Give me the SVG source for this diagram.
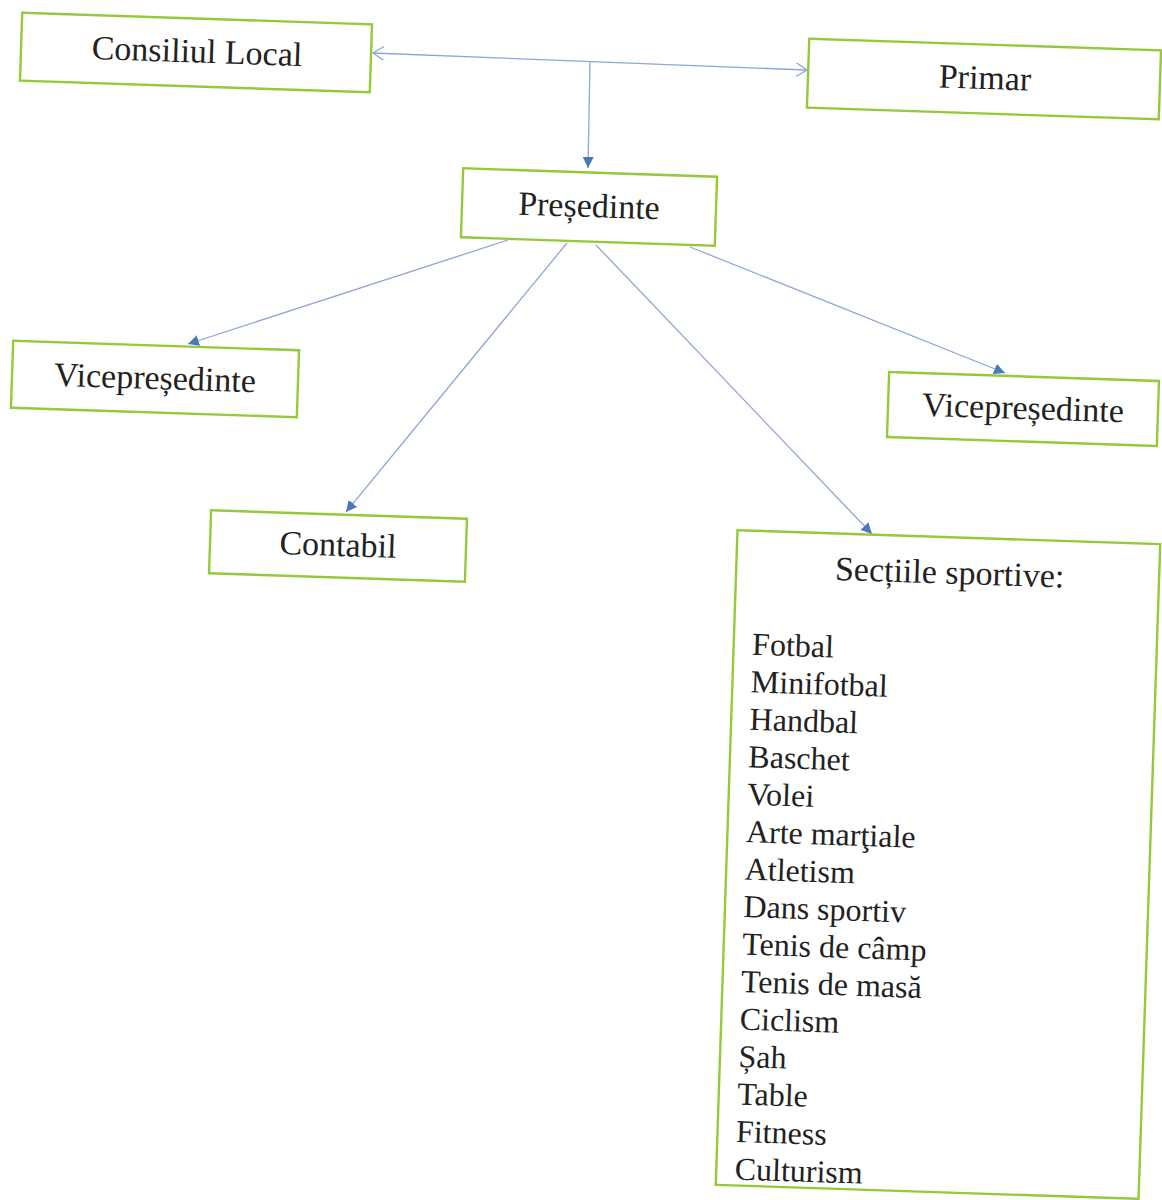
<svg xmlns="http://www.w3.org/2000/svg" width="1162" height="1200" viewBox="0 0 1162 1200" font-family="'Liberation Serif', 'Times New Roman', Times, serif">
<style>
.box{fill:#fff;stroke:#96c93a;stroke-width:2.4}
text{font-family:'Liberation Serif','Times New Roman',Times,serif;fill:#222}
.t{font-size:34px;text-anchor:middle}
.l{font-size:32px}
.c{stroke:#8ea6d6;stroke-width:1.3;fill:none}
</style>
<defs>
<marker id="tri" viewBox="0 0 10 10" refX="10" refY="5" markerWidth="11" markerHeight="11" markerUnits="userSpaceOnUse" orient="auto"><path d="M0,0 L10,5 L0,10 z" fill="#4a78bd"/></marker>
<marker id="open" viewBox="0 0 12 14" refX="11" refY="7" markerWidth="12" markerHeight="14" markerUnits="userSpaceOnUse" orient="auto-start-reverse"><path d="M0,0 L11,7 L0,14" fill="none" stroke="#8ea6d6" stroke-width="1.3"/></marker>
</defs>
<rect width="1162" height="1200" fill="#fff"/>
<g id="connectors">
<line class="c" x1="373" y1="53" x2="807" y2="70" marker-start="url(#open)" marker-end="url(#open)"/>
<line class="c" x1="590" y1="62" x2="588" y2="168" marker-end="url(#tri)"/>
<line class="c" x1="508" y1="240" x2="188" y2="344" marker-end="url(#tri)"/>
<line class="c" x1="567" y1="243" x2="346" y2="512" marker-end="url(#tri)"/>
<line class="c" x1="596" y1="245" x2="872" y2="534" marker-end="url(#tri)"/>
<line class="c" x1="690" y1="247" x2="1005" y2="373" marker-end="url(#tri)"/>
</g>
<g id="consiliul" transform="rotate(1.9 196 52.5)">
<rect class="box" x="21" y="18.5" width="350" height="68"/>
<text class="t" x="197" y="62.5">Consiliul Local</text>
</g>
<g id="primar" transform="rotate(1.9 984 79)">
<rect class="box" x="808" y="44.5" width="352" height="69"/>
<text class="t" x="985" y="89">Primar</text>
</g>
<g id="presedinte" transform="rotate(1.9 589 207)">
<rect class="box" x="462" y="172.5" width="254" height="69"/>
<text class="t" x="589" y="217">Președinte</text>
</g>
<g id="vice-left" transform="rotate(1.9 155 379)">
<rect class="box" x="12" y="345.5" width="286" height="67"/>
<text class="t" x="155" y="389">Vicepreședinte</text>
</g>
<g id="contabil" transform="rotate(1.9 338 546)">
<rect class="box" x="210" y="514.5" width="256" height="63"/>
<text class="t" x="338" y="556">Contabil</text>
</g>
<g id="vice-right" transform="rotate(1.9 1023 409)">
<rect class="box" x="888" y="376.5" width="270" height="65"/>
<text class="t" x="1023" y="419">Vicepreședinte</text>
</g>
<g id="sectii" transform="rotate(1.9 938 864.5)">
<rect class="box" x="726.5" y="537" width="423" height="655"/>
<text class="t" x="940" y="583.5">Secțiile sportive:</text>
<text class="l" x="745" y="661">Fotbal</text>
<text class="l" x="745" y="698.5">Minifotbal</text>
<text class="l" x="745" y="736">Handbal</text>
<text class="l" x="745" y="773.5">Baschet</text>
<text class="l" x="745" y="811">Volei</text>
<text class="l" x="745" y="848.5">Arte marţiale</text>
<text class="l" x="745" y="886">Atletism</text>
<text class="l" x="745" y="923.5">Dans sportiv</text>
<text class="l" x="745" y="961">Tenis de câmp</text>
<text class="l" x="745" y="998.5">Tenis de masă</text>
<text class="l" x="745" y="1036">Ciclism</text>
<text class="l" x="745" y="1073.5">Șah</text>
<text class="l" x="745" y="1111">Table</text>
<text class="l" x="745" y="1148.5">Fitness</text>
<text class="l" x="745" y="1186">Culturism</text>
</g>
</svg>
